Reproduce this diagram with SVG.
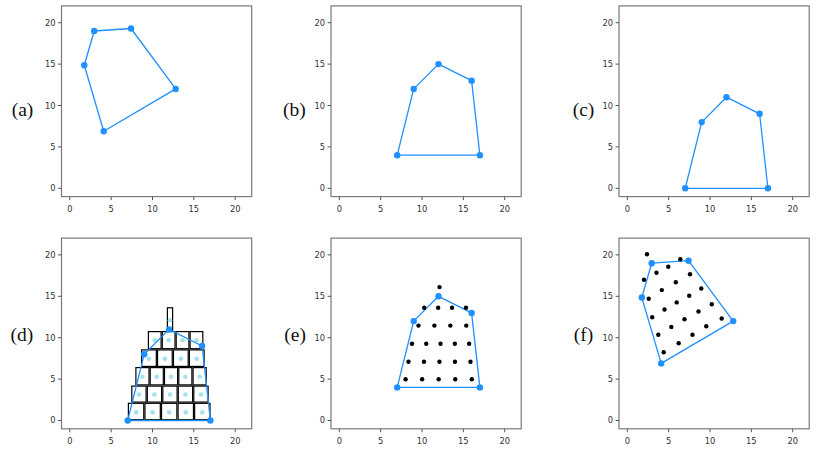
<svg xmlns="http://www.w3.org/2000/svg" width="830" height="467" viewBox="0 0 830 467">
<style>
.frame{fill:none;stroke:#7a7a7a;stroke-width:1.2}
.tick{stroke:#555;stroke-width:1}
.tl{font-family:"DejaVu Sans",sans-serif;font-size:8.3px;fill:#333}
.yl{text-anchor:end}
.xl{text-anchor:middle}
.lab{font-family:"Liberation Serif",serif;font-size:19.5px;fill:#111}
.hull{fill:none;stroke:#1e90ff;stroke-width:1.3;stroke-linejoin:round}
.v{fill:#1e90ff}
.pt{fill:#000}
.cell{fill:none;stroke:#000;stroke-width:1.2}
.cd{fill:#a6e2ee}
</style>
<defs>
<g id="axes">
<rect class="frame" x="61.5" y="5.9" width="190.2" height="190.7"/>
<path class="tick" d="M58,188.3H61.5M58,146.9H61.5M58,105.5H61.5M58,64.1H61.5M58,22.7H61.5M69.8,196.6V200.1M111.15,196.6V200.1M152.5,196.6V200.1M193.85,196.6V200.1M235.2,196.6V200.1"/>
</g>
</defs>

<g id="panel-a">
<use href="#axes"/>
<text class="tl yl" x="55.5" y="191.3">0</text><text class="tl yl" x="55.5" y="149.9">5</text><text class="tl yl" x="55.5" y="108.5">10</text><text class="tl yl" x="55.5" y="67.1">15</text><text class="tl yl" x="55.5" y="25.7">20</text>
<text class="tl xl" x="69.8" y="211.6">0</text><text class="tl xl" x="111.15" y="211.6">5</text><text class="tl xl" x="152.5" y="211.6">10</text><text class="tl xl" x="193.85" y="211.6">15</text><text class="tl xl" x="235.2" y="211.6">20</text>
<text class="lab" x="33.3" y="116" text-anchor="end">(a)</text>
<polygon class="hull" points="94.2,31 131,28.5 175.7,88.9 103.7,131.2 84.3,65.3"/>
<circle class="v" cx="94.2" cy="31" r="3.2"/><circle class="v" cx="131" cy="28.5" r="3.2"/><circle class="v" cx="175.7" cy="88.9" r="3.2"/><circle class="v" cx="103.7" cy="131.2" r="3.2"/><circle class="v" cx="84.3" cy="65.3" r="3.2"/>
</g>

<g id="panel-b" transform="translate(269.5,0)">
<use href="#axes"/>
<text class="tl yl" x="55.5" y="191.3">0</text><text class="tl yl" x="55.5" y="149.9">5</text><text class="tl yl" x="55.5" y="108.5">10</text><text class="tl yl" x="55.5" y="67.1">15</text><text class="tl yl" x="55.5" y="25.7">20</text>
<text class="tl xl" x="69.8" y="211.6">0</text><text class="tl xl" x="111.15" y="211.6">5</text><text class="tl xl" x="152.5" y="211.6">10</text><text class="tl xl" x="193.85" y="211.6">15</text><text class="tl xl" x="235.2" y="211.6">20</text>
<text class="lab" x="36.3" y="116" text-anchor="end">(b)</text>
<polygon class="hull" points="127.7,155.2 144.2,88.9 169,64.1 202.1,80.7 210.4,155.2"/>
<circle class="v" cx="127.7" cy="155.2" r="3.2"/><circle class="v" cx="144.2" cy="88.9" r="3.2"/><circle class="v" cx="169" cy="64.1" r="3.2"/><circle class="v" cx="202.1" cy="80.7" r="3.2"/><circle class="v" cx="210.4" cy="155.2" r="3.2"/>
</g>

<g id="panel-c" transform="translate(557.5,0)">
<use href="#axes"/>
<text class="tl yl" x="55.5" y="191.3">0</text><text class="tl yl" x="55.5" y="149.9">5</text><text class="tl yl" x="55.5" y="108.5">10</text><text class="tl yl" x="55.5" y="67.1">15</text><text class="tl yl" x="55.5" y="25.7">20</text>
<text class="tl xl" x="69.8" y="211.6">0</text><text class="tl xl" x="111.15" y="211.6">5</text><text class="tl xl" x="152.5" y="211.6">10</text><text class="tl xl" x="193.85" y="211.6">15</text><text class="tl xl" x="235.2" y="211.6">20</text>
<text class="lab" x="36.8" y="116" text-anchor="end">(c)</text>
<polygon class="hull" points="127.7,188.3 144.2,122.1 169,97.2 202.1,113.8 210.4,188.3"/>
<circle class="v" cx="127.7" cy="188.3" r="3.2"/><circle class="v" cx="144.2" cy="122.1" r="3.2"/><circle class="v" cx="169" cy="97.2" r="3.2"/><circle class="v" cx="202.1" cy="113.8" r="3.2"/><circle class="v" cx="210.4" cy="188.3" r="3.2"/>
</g>

<g id="panel-d" transform="translate(0,232.2)">
<use href="#axes"/>
<text class="tl yl" x="55.5" y="191.3">0</text><text class="tl yl" x="55.5" y="149.9">5</text><text class="tl yl" x="55.5" y="108.5">10</text><text class="tl yl" x="55.5" y="67.1">15</text><text class="tl yl" x="55.5" y="25.7">20</text>
<text class="tl xl" x="69.8" y="211.6">0</text><text class="tl xl" x="111.15" y="211.6">5</text><text class="tl xl" x="152.5" y="211.6">10</text><text class="tl xl" x="193.85" y="211.6">15</text><text class="tl xl" x="235.2" y="211.6">20</text>
<text class="lab" x="33.3" y="109.2" text-anchor="end">(d)</text>
<g id="cells">
<rect class="cell" x="128.4" y="171.1" width="15.36" height="16.4"/><rect class="cell" x="144.96" y="171.1" width="15.36" height="16.4"/><rect class="cell" x="161.52" y="171.1" width="15.36" height="16.4"/><rect class="cell" x="178.08" y="171.1" width="15.36" height="16.4"/><rect class="cell" x="194.64" y="171.1" width="15.36" height="16.4"/>
<rect class="cell" x="131.8" y="153.9" width="14.3" height="16"/><rect class="cell" x="147.3" y="153.9" width="14.3" height="16"/><rect class="cell" x="162.8" y="153.9" width="14.3" height="16"/><rect class="cell" x="178.3" y="153.9" width="14.3" height="16"/><rect class="cell" x="193.8" y="153.9" width="14.3" height="16"/>
<rect class="cell" x="135.9" y="135.4" width="13.1" height="17.3"/><rect class="cell" x="150.2" y="135.4" width="13.1" height="17.3"/><rect class="cell" x="164.5" y="135.4" width="13.1" height="17.3"/><rect class="cell" x="178.8" y="135.4" width="13.1" height="17.3"/><rect class="cell" x="193.1" y="135.4" width="13.1" height="17.3"/>
<rect class="cell" x="141.6" y="117.7" width="14.73" height="16.5"/><rect class="cell" x="157.53" y="117.7" width="14.73" height="16.5"/><rect class="cell" x="173.46" y="117.7" width="14.73" height="16.5"/><rect class="cell" x="189.39" y="117.7" width="14.73" height="16.5"/>
<rect class="cell" x="148.4" y="99.4" width="12.7" height="17.1"/><rect class="cell" x="162.3" y="99.4" width="12.7" height="17.1"/><rect class="cell" x="176.2" y="99.4" width="12.7" height="17.1"/><rect class="cell" x="190.1" y="99.4" width="12.7" height="17.1"/>
<rect class="cell" x="167.4" y="75.6" width="5.2" height="23.1"/>
</g>
<g id="cell-dots">
<circle class="cd" cx="136.08" cy="180.2" r="2.3"/><circle class="cd" cx="152.64" cy="180.2" r="2.3"/><circle class="cd" cx="169.2" cy="180.2" r="2.3"/><circle class="cd" cx="185.76" cy="180.2" r="2.3"/><circle class="cd" cx="202.32" cy="180.2" r="2.3"/>
<circle class="cd" cx="138.95" cy="162.3" r="2.3"/><circle class="cd" cx="154.45" cy="162.3" r="2.3"/><circle class="cd" cx="169.95" cy="162.3" r="2.3"/><circle class="cd" cx="185.45" cy="162.3" r="2.3"/><circle class="cd" cx="200.95" cy="162.3" r="2.3"/>
<circle class="cd" cx="142.45" cy="144.6" r="2.3"/><circle class="cd" cx="156.75" cy="144.6" r="2.3"/><circle class="cd" cx="171.05" cy="144.6" r="2.3"/><circle class="cd" cx="185.35" cy="144.6" r="2.3"/><circle class="cd" cx="199.65" cy="144.6" r="2.3"/>
<circle class="cd" cx="148.96" cy="126.5" r="2.3"/><circle class="cd" cx="164.89" cy="126.5" r="2.3"/><circle class="cd" cx="180.82" cy="126.5" r="2.3"/><circle class="cd" cx="196.75" cy="126.5" r="2.3"/>
<circle class="cd" cx="154.75" cy="108.1" r="2.3"/><circle class="cd" cx="168.65" cy="108.1" r="2.3"/><circle class="cd" cx="182.55" cy="108.1" r="2.3"/><circle class="cd" cx="196.45" cy="108.1" r="2.3"/>
<circle class="cd" cx="170" cy="88.1" r="2.3"/>
</g>
<polygon class="hull" points="127.7,188.3 144.2,122.1 169,97.2 202.1,113.8 210.4,188.3"/>
<circle class="v" cx="127.7" cy="188.3" r="3.2"/><circle class="v" cx="144.2" cy="122.1" r="3.2"/><circle class="v" cx="169" cy="97.2" r="3.2"/><circle class="v" cx="202.1" cy="113.8" r="3.2"/><circle class="v" cx="210.4" cy="188.3" r="3.2"/>
</g>

<g id="panel-e" transform="translate(269.5,232.2)">
<use href="#axes"/>
<text class="tl yl" x="55.5" y="191.3">0</text><text class="tl yl" x="55.5" y="149.9">5</text><text class="tl yl" x="55.5" y="108.5">10</text><text class="tl yl" x="55.5" y="67.1">15</text><text class="tl yl" x="55.5" y="25.7">20</text>
<text class="tl xl" x="69.8" y="211.6">0</text><text class="tl xl" x="111.15" y="211.6">5</text><text class="tl xl" x="152.5" y="211.6">10</text><text class="tl xl" x="193.85" y="211.6">15</text><text class="tl xl" x="235.2" y="211.6">20</text>
<text class="lab" x="36.5" y="109.2" text-anchor="end">(e)</text>
<polygon class="hull" points="127.7,155.2 144.2,88.9 169,64.1 202.1,80.7 210.4,155.2"/>
<circle class="v" cx="127.7" cy="155.2" r="3.2"/><circle class="v" cx="144.2" cy="88.9" r="3.2"/><circle class="v" cx="169" cy="64.1" r="3.2"/><circle class="v" cx="202.1" cy="80.7" r="3.2"/><circle class="v" cx="210.4" cy="155.2" r="3.2"/>
<g id="e-dots">
<circle class="pt" cx="136.08" cy="147.1" r="2.2"/><circle class="pt" cx="152.64" cy="147.1" r="2.2"/><circle class="pt" cx="169.2" cy="147.1" r="2.2"/><circle class="pt" cx="185.76" cy="147.1" r="2.2"/><circle class="pt" cx="202.32" cy="147.1" r="2.2"/>
<circle class="pt" cx="138.95" cy="129.5" r="2.2"/><circle class="pt" cx="154.45" cy="129.5" r="2.2"/><circle class="pt" cx="169.95" cy="129.5" r="2.2"/><circle class="pt" cx="185.45" cy="129.5" r="2.2"/><circle class="pt" cx="200.95" cy="129.5" r="2.2"/>
<circle class="pt" cx="142.45" cy="111.6" r="2.2"/><circle class="pt" cx="156.75" cy="111.6" r="2.2"/><circle class="pt" cx="171.05" cy="111.6" r="2.2"/><circle class="pt" cx="185.35" cy="111.6" r="2.2"/><circle class="pt" cx="199.65" cy="111.6" r="2.2"/>
<circle class="pt" cx="148.96" cy="93.4" r="2.2"/><circle class="pt" cx="164.89" cy="93.4" r="2.2"/><circle class="pt" cx="180.82" cy="93.4" r="2.2"/><circle class="pt" cx="196.75" cy="93.4" r="2.2"/>
<circle class="pt" cx="154.75" cy="75.5" r="2.2"/><circle class="pt" cx="168.65" cy="75.5" r="2.2"/><circle class="pt" cx="182.55" cy="75.5" r="2.2"/><circle class="pt" cx="196.45" cy="75.5" r="2.2"/>
<circle class="pt" cx="170" cy="54.9" r="2.2"/>
</g>
</g>

<g id="panel-f" transform="translate(557.5,232.2)">
<use href="#axes"/>
<text class="tl yl" x="55.5" y="191.3">0</text><text class="tl yl" x="55.5" y="149.9">5</text><text class="tl yl" x="55.5" y="108.5">10</text><text class="tl yl" x="55.5" y="67.1">15</text><text class="tl yl" x="55.5" y="25.7">20</text>
<text class="tl xl" x="69.8" y="211.6">0</text><text class="tl xl" x="111.15" y="211.6">5</text><text class="tl xl" x="152.5" y="211.6">10</text><text class="tl xl" x="193.85" y="211.6">15</text><text class="tl xl" x="235.2" y="211.6">20</text>
<text class="lab" x="35.8" y="109.2" text-anchor="end">(f)</text>
<polygon class="hull" points="94.2,31 131,28.5 175.7,88.9 103.7,131.2 84.3,65.3"/>
<circle class="v" cx="94.2" cy="31" r="3.2"/><circle class="v" cx="131" cy="28.5" r="3.2"/><circle class="v" cx="175.7" cy="88.9" r="3.2"/><circle class="v" cx="103.7" cy="131.2" r="3.2"/><circle class="v" cx="84.3" cy="65.3" r="3.2"/>
<g id="f-dots">
<circle class="pt" cx="89.5" cy="22.1" r="2.2"/><circle class="pt" cx="122.8" cy="27.1" r="2.2"/><circle class="pt" cx="110.8" cy="34.5" r="2.2"/><circle class="pt" cx="99" cy="40.5" r="2.2"/><circle class="pt" cx="132.5" cy="42.1" r="2.2"/>
<circle class="pt" cx="86.5" cy="47.5" r="2.2"/><circle class="pt" cx="118.3" cy="50.1" r="2.2"/><circle class="pt" cx="143.8" cy="56.3" r="2.2"/><circle class="pt" cx="104.3" cy="57.9" r="2.2"/><circle class="pt" cx="131.7" cy="63.5" r="2.2"/>
<circle class="pt" cx="91.2" cy="66.6" r="2.2"/><circle class="pt" cx="119.2" cy="70.2" r="2.2"/><circle class="pt" cx="154.3" cy="72" r="2.2"/><circle class="pt" cx="107" cy="77.3" r="2.2"/><circle class="pt" cx="141" cy="79.3" r="2.2"/>
<circle class="pt" cx="94.7" cy="85.1" r="2.2"/><circle class="pt" cx="127" cy="87.1" r="2.2"/><circle class="pt" cx="164.2" cy="86.3" r="2.2"/><circle class="pt" cx="113.8" cy="94.8" r="2.2"/><circle class="pt" cx="148.8" cy="94.1" r="2.2"/>
<circle class="pt" cx="100.8" cy="102.6" r="2.2"/><circle class="pt" cx="135" cy="102.6" r="2.2"/><circle class="pt" cx="121.2" cy="111" r="2.2"/><circle class="pt" cx="106.2" cy="120" r="2.2"/>
</g>
</g>
</svg>
